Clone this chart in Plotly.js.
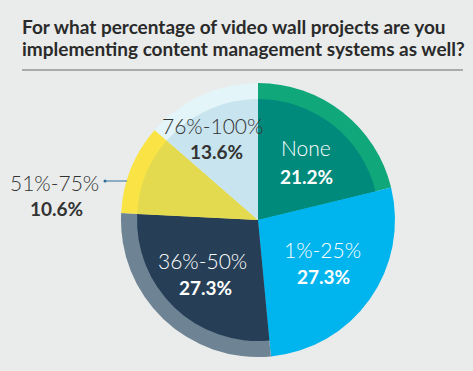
<!DOCTYPE html>
<html>
<head>
<meta charset="utf-8">
<script src="https://cdn.plot.ly/plotly-3.0.1.min.js"></script>
<style>html,body{margin:0;padding:0;background:#E9ECEB;}#chart{width:473px;height:371px;}</style>
</head>
<body>
<div id="chart"></div>
<script>
var categories = ["None", "1%-25%", "36%-50%", "51%-75%", "76%-100%"];
var shares = [21.2, 27.3, 27.3, 10.6, 13.6];
var innerColors = ["#008A7C", "#00B5EE", "#263F57", "#E3DA4F", "#C8E4EF"];
var ringColors = ["#10A87A", "#00B5EE", "#6E8394", "#F9E345", "#E3F5F9"];
var titleLines = ["For what percentage of video wall projects are you", "implementing content management systems as well?"];

var W = 473, H = 371;
function px(x){ return x / W; }
function py(y){ return (H - y) / H; }

var cx = 258, cy = 220, R = 137, r = 121;

var outer = {
  type: "pie", values: shares, labels: categories, sort: false, direction: "clockwise", rotation: 0,
  marker: {colors: ringColors, line: {width: 0}}, textinfo: "none", hoverinfo: "none", showlegend: false,
  domain: {x: [px(cx - R), px(cx + R)], y: [py(cy + R), py(cy - R)]}
};
var inner = {
  type: "pie", values: shares, labels: categories, sort: false, direction: "clockwise", rotation: 0,
  marker: {colors: innerColors, line: {width: 0}}, textinfo: "none", hoverinfo: "none", showlegend: false,
  domain: {x: [px(cx - r), px(cx + r)], y: [py(cy + r), py(cy - r)]}
};

var labelPos = [
  {n: [306, 148], p: [306, 176], c: "#FFFFFF"},
  {n: [322, 249], p: [323, 276], c: "#FFFFFF"},
  {n: [202, 260], p: [205, 287], c: "#FFFFFF"},
  {n: [54, 182], p: [56, 209], c: "#333333"},
  {n: [212, 125], p: [216, 151], c: "#333333"}
];

var annotations = [];
categories.forEach(function(cat, i){
  var L = labelPos[i];
  annotations.push({xref: "paper", yref: "paper", x: px(L.n[0]), y: py(L.n[1]), xanchor: "center", yanchor: "middle",
    text: cat, showarrow: false, font: {family: "Lato", size: 21, weight: 300, color: L.c}});
  annotations.push({xref: "paper", yref: "paper", x: px(L.p[0]), y: py(L.p[1]), xanchor: "center", yanchor: "middle",
    text: "<b>" + shares[i].toFixed(1) + "%</b>", showarrow: false, font: {family: "Lato", size: 19, color: L.c}});
});
titleLines.forEach(function(t, i){
  annotations.push({xref: "paper", yref: "paper", x: px(20), y: py(26 + i * 22), xanchor: "left", yanchor: "middle",
    text: "<b>" + t + "</b>", showarrow: false, font: {family: "Lato", size: 19, color: "#2A2A2A"}});
});

var layout = {
  width: W, height: H, margin: {l: 0, r: 0, t: 0, b: 0},
  paper_bgcolor: "#E9ECEB", plot_bgcolor: "#E9ECEB",
  annotations: annotations,
  shapes: [
    {type: "line", xref: "paper", yref: "paper", x0: px(22), x1: px(463), y0: py(70), y1: py(70), line: {color: "#A9ABAB", width: 2}},
    {type: "line", xref: "paper", yref: "paper", x0: px(105), x1: px(127), y0: py(181), y1: py(181), line: {color: "#2E6E9E", width: 1}},
    {type: "circle", xref: "paper", yref: "paper", x0: px(103.5), x1: px(106.5), y0: py(182.5), y1: py(179.5), fillcolor: "#2E6E9E", line: {width: 0}}
  ]
};

Plotly.newPlot("chart", [outer, inner], layout, {displayModeBar: false, staticPlot: true});
</script>
</body>
</html>
